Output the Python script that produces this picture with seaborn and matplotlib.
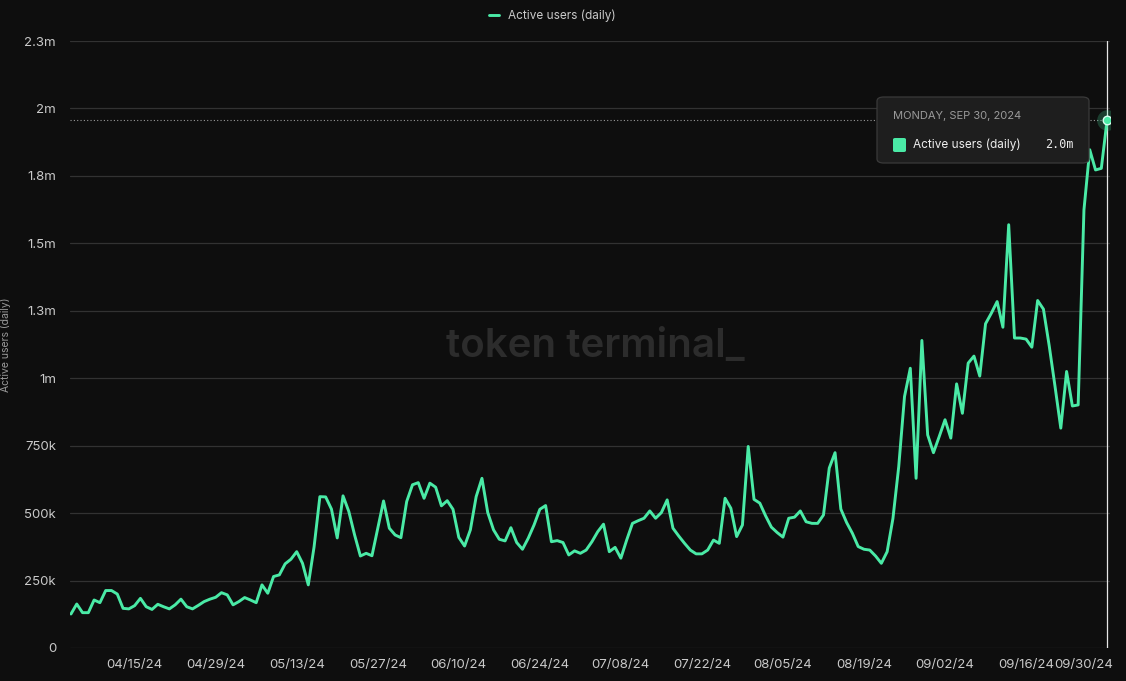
import pandas as pd
import matplotlib
matplotlib.use("Agg")
import matplotlib.pyplot as plt
import matplotlib.dates as mdates
import matplotlib.transforms as mtransforms
from matplotlib.patches import FancyBboxPatch
import seaborn as sns

# -----------------------------
# Data
# -----------------------------
start_date = "2024-04-04"
series_name = "Active users (daily)"

# daily active users, thousands
active_users_k = [
    126, 163, 131, 131, 178, 168, 213, 213, 200, 147,
    145, 157, 184, 153, 143, 162, 153, 145, 160, 181,
    153, 145, 158, 172, 181, 188, 205, 197, 160, 172,
    187, 178, 168, 234, 203, 265, 271, 312, 329, 357,
    314, 234, 375, 561, 560, 515, 408, 564, 506, 419,
    341, 351, 342, 444, 545, 444, 419, 409, 543, 605,
    613, 555, 611, 596, 527, 546, 514, 410, 378, 438,
    561, 629, 502, 438, 403, 397, 446, 391, 366, 407,
    456, 514, 528, 394, 398, 391, 345, 360, 351, 363,
    394, 431, 459, 357, 373, 333, 400, 462, 472, 481,
    508, 481, 502, 549, 444, 415, 388, 363, 349, 349,
    363, 400, 388, 555, 518, 413, 456, 747, 551, 537,
    490, 448, 428, 411, 481, 485, 508, 468, 462, 462,
    493, 667, 724, 515, 465, 425, 376, 366, 363, 341,
    314, 357, 480, 672, 932, 1037, 629, 1140, 790, 724,
    784, 846, 778, 979, 870, 1056, 1082, 1008, 1202, 1241,
    1284, 1189, 1569, 1149, 1149, 1145, 1115, 1288, 1256, 1120,
    970, 815, 1025, 897, 901, 1624, 1847, 1772, 1778, 1958,
]

y_ticks = [0, 250e3, 500e3, 750e3, 1e6, 1.25e6, 1.5e6, 1.75e6, 2e6, 2.25e6]
y_tick_labels = ["0", "250k", "500k", "750k", "1m", "1.3m", "1.5m", "1.8m", "2m", "2.3m"]
x_tick_dates = pd.date_range("2024-04-15", "2024-09-30", freq="14D")

df = pd.DataFrame({
    "date": pd.date_range(start_date, periods=len(active_users_k), freq="D"),
    "users": [v * 1000 for v in active_users_k],
})

# -----------------------------
# Style
# -----------------------------
bg = "#0e0e0e"
green = "#4aeaa6"
grid_c = "#323232"
text_c = "#c9c9c9"

sns.set_style("dark", rc={
    "figure.facecolor": bg,
    "axes.facecolor": bg,
    "axes.edgecolor": bg,
    "grid.color": grid_c,
    "text.color": text_c,
    "xtick.color": text_c,
    "ytick.color": text_c,
})
plt.rcParams["font.family"] = ["Inter", "DejaVu Sans"]

W, H = 1126, 681
fig = plt.figure(figsize=(W / 100, H / 100), dpi=100)
ax = fig.add_axes([70 / W, 33 / H, 1040 / W, 607 / H])


def fx(px):
    return px / W


def fy(py):
    return 1 - py / H


# -----------------------------
# Plot
# -----------------------------
sns.lineplot(data=df, x="date", y="users", ax=ax, color=green,
             linewidth=2.1, label=series_name, legend=False)

first, last = df["date"].iloc[0], df["date"].iloc[-1]
ax.set_xlim(first - pd.Timedelta(hours=4), last + pd.Timedelta(hours=12))
ax.set_ylim(0, y_ticks[-1])

ax.set_yticks(y_ticks)
ax.set_yticklabels(y_tick_labels)
ax.set_xticks(x_tick_dates)
ax.xaxis.set_major_formatter(mdates.DateFormatter("%m/%d/%y"))

ax.grid(axis="y", color=grid_c, linewidth=0.9)
ax.grid(axis="x", visible=False)
ax.tick_params(axis="y", length=0, pad=10, labelsize=9.5, colors=text_c)
ax.tick_params(axis="x", length=5, width=0.8, color="#4a4a4a", pad=3,
               labelsize=9.5, labelcolor=text_c)
ax.set_xlabel("")
ax.set_ylabel("")
for s in ax.spines.values():
    s.set_visible(False)

# keep the last date label inside the figure
fig.canvas.draw()
last_lbl = ax.get_xticklabels()[-1]
last_lbl.set_horizontalalignment("right")
last_lbl.set_transform(last_lbl.get_transform() +
                       mtransforms.ScaledTranslation(6 / 100, 0, fig.dpi_scale_trans))

# hover crosshair on the last point
last_val = df["users"].iloc[-1]
ax.axvline(last, color="#e6e6e6", linewidth=0.9, zorder=1)
ax.hlines(last_val, first - pd.Timedelta(hours=4), last, colors="#9a9a9a",
          linestyles=(0, (1, 2)), linewidth=0.8, zorder=1)
ax.scatter([last], [last_val], s=220, color=green, alpha=0.22, zorder=4, linewidths=0)
ax.scatter([last], [last_val], s=38, color=green, edgecolors="#d8fff0",
           linewidths=1.0, zorder=5)

# watermark
ax.text(0.505, 0.497, "token terminal_", transform=ax.transAxes,
        ha="center", va="center", fontsize=29, fontweight="semibold",
        color="#2c2c2c", zorder=0)

# y label
fig.text(fx(6), fy(345), series_name, rotation=90, ha="center", va="center",
         fontsize=7.5, color="#9a9a9a")

# legend
handles, labels = ax.get_legend_handles_labels()
if ax.get_legend() is not None:
    ax.get_legend().remove()
fig.legend(handles[:1], labels[:1], loc="center", bbox_to_anchor=(fx(552), fy(16)),
           frameon=False, fontsize=8.5, handlelength=0.9, handletextpad=0.7,
           labelcolor=text_c)

# tooltip
box = FancyBboxPatch((fx(877), fy(163)), fx(212), 66 / H,
                     boxstyle="round,pad=0,rounding_size=0.006",
                     transform=fig.transFigure, facecolor="#1e1e1e",
                     edgecolor="#3a3a3a", linewidth=0.9, zorder=10)
fig.patches.append(box)
fig.text(fx(893), fy(116), last.strftime("%A, %b %d, %Y").upper(),
         ha="left", va="center", fontsize=8, color="#9a9a9a", zorder=11)
swatch = FancyBboxPatch((fx(893), fy(152)), fx(13), 14 / H,
                        boxstyle="round,pad=0,rounding_size=0.002",
                        transform=fig.transFigure, facecolor=green,
                        edgecolor="none", zorder=11)
fig.patches.append(swatch)
fig.text(fx(913), fy(145), series_name, ha="left", va="center",
         fontsize=8.5, color="#eeeeee", zorder=11)
fig.text(fx(1074), fy(145), f"{last_val / 1e6:.1f}m", ha="right", va="center",
         fontsize=8.5, color="#eeeeee", family="DejaVu Sans Mono", zorder=11)

fig.savefig("out.png", dpi=100, facecolor=bg)
